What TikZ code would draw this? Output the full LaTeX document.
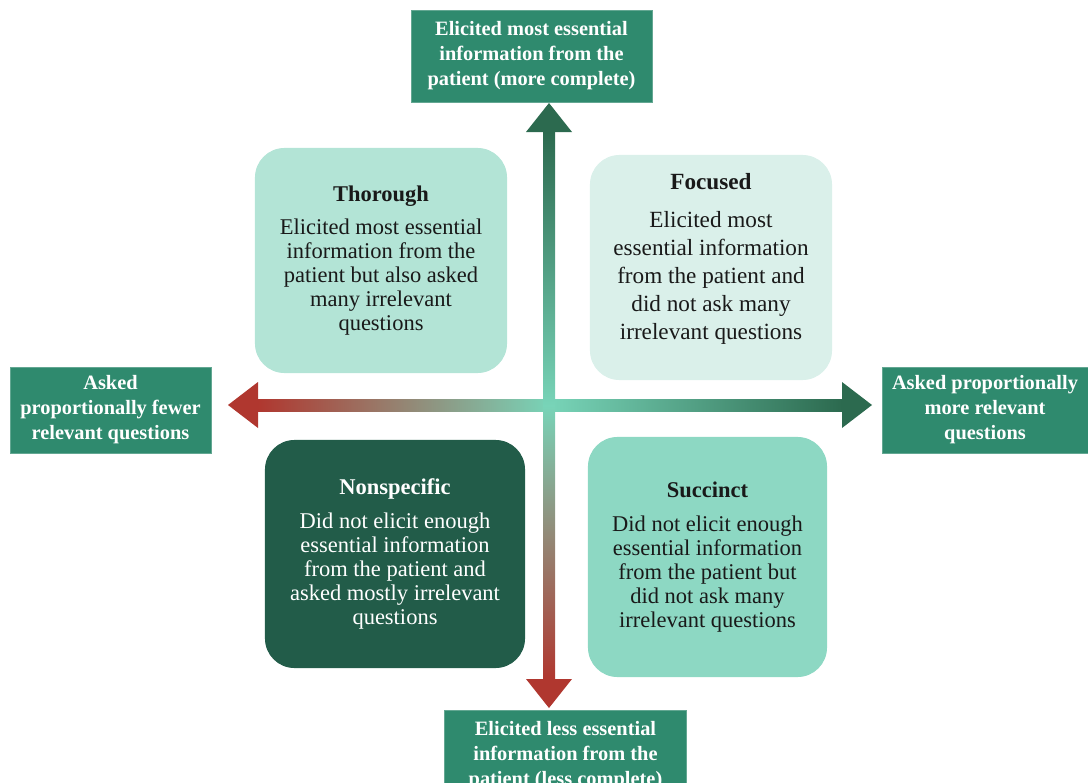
\documentclass[tikz,border=0pt]{standalone}
\usepackage{fontspec}
\setmainfont{Liberation Serif}
\usepackage{tikz}
\usetikzlibrary{calc}

\definecolor{labelgreen}{RGB}{47,138,110}
\definecolor{thorfill}{RGB}{179,228,214}
\definecolor{focfill}{RGB}{218,240,234}
\definecolor{nonfill}{RGB}{34,92,73}
\definecolor{sucfill}{RGB}{141,216,195}
\definecolor{axisdark}{RGB}{44,106,79}
\definecolor{axislight}{RGB}{120,212,184}
\definecolor{axisred}{RGB}{176,55,47}

\begin{document}
\begin{tikzpicture}[x=0.025cm, y=-0.025cm,
  axislabel/.style={fill=labelgreen, draw=labelgreen!75!white, line width=0.5pt,
    text=white, align=center, inner sep=0pt,
    font=\fontsize{14.5}{17.8}\selectfont\bfseries},
  quad/.style={rounded corners=21pt, align=center, inner sep=0pt, text=black!90,
    font=\fontsize{16}{17}\selectfont}]
\useasboundingbox (0,0) rectangle (1088,783);

% axis labels
\node[axislabel, minimum width=6.025cm, minimum height=2.3cm] (more) at (531.5,56)
  {Elicited most essential\\information from the\\patient (more complete)};
\node[axislabel, minimum width=6.05cm, minimum height=2.3cm] (less) at (565.5,756)
  {Elicited less essential\\information from the\\patient (less complete)};
\node[axislabel, minimum width=5.025cm, minimum height=2.15cm] (fewer) at (110.5,410)
  {Asked\\proportionally fewer\\relevant questions};
\node[axislabel, minimum width=5.15cm, minimum height=2.15cm] (morerel) at (985,410)
  {Asked proportionally\\more relevant\\questions};

% axes
\coordinate (o) at (549,405);
\coordinate (n) at (549,103);
\coordinate (s) at (549,708);
\coordinate (w) at (228,405);
\coordinate (e) at (872,405);
\shade[left color=axisred, right color=axisdark, middle color=axislight]
  ($(w)+(30,-6)$) rectangle ($(e)+(-30,6)$);
\shade[top color=axisdark, bottom color=axisred, middle color=axislight]
  ($(n)+(-6,29)$) rectangle ($(s)+(6,-29)$);
\fill[axisred] (w) -- ++(30,-23) -- ++(0,46) -- cycle;
\fill[axisdark] (e) -- ++(-30,-23) -- ++(0,46) -- cycle;
\fill[axisdark] (n) -- ++(-23,29) -- ++(46,0) -- cycle;
\fill[axisred] (s) -- ++(-23,-29) -- ++(46,0) -- cycle;

% quadrants
\node[quad, fill=thorfill, minimum width=6.3cm, minimum height=5.625cm] (thorough) at (381,260.5)
  {\textbf{Thorough}\\[7pt]Elicited most essential\\information from the\\patient but also asked\\many irrelevant\\questions};
\node[quad, fill=focfill, minimum width=6.05cm, minimum height=5.625cm] (focused) at (711,267.5) {};
\node[quad, font=\fontsize{16.5}{20}\selectfont] (focusedtext) at (711,259)
  {\textbf{Focused}\\[7pt]Elicited most\\essential information\\from the patient and\\did not ask many\\irrelevant questions};
\node[quad, fill=nonfill, text=white, minimum width=6.5cm, minimum height=5.7cm] (nonspecific) at (395,554)
  {\textbf{Nonspecific}\\[7pt]Did not elicit enough\\essential information\\from the patient and\\asked mostly irrelevant\\questions};
\node[quad, fill=sucfill, minimum width=5.975cm, minimum height=6cm] (succinct) at (707.5,557)
  {\textbf{Succinct}\\[7pt]Did not elicit enough\\essential information\\from the patient but\\did not ask many\\irrelevant questions};
\end{tikzpicture}
\end{document}
